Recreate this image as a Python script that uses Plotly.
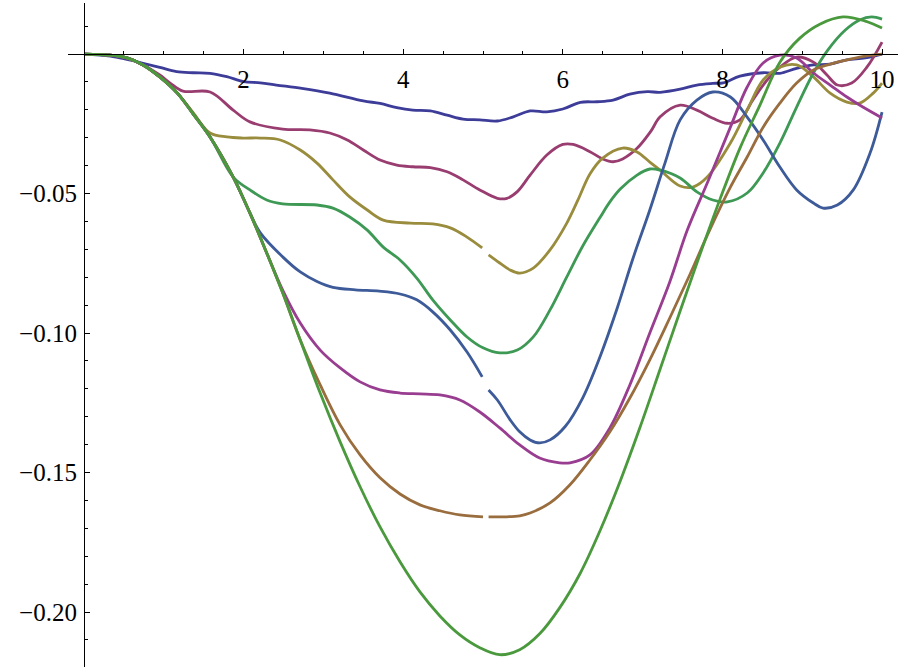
import plotly.graph_objects as go

# ---------------- data ----------------
x1 = [0, 0.33, 0.54, 0.74, 0.95, 1.16, 1.37, 1.58, 1.79, 2.0, 2.21, 2.41, 2.73, 3.08, 3.5, 3.71, 3.92, 4.12,
      4.34, 4.55, 4.75, 4.96, 5.18, 5.38, 5.59, 5.8, 6.0, 6.22, 6.43, 6.63, 6.84, 7.06, 7.22, 7.47, 7.68, 7.88,
      8.01, 8.22, 8.51, 8.72, 8.93, 9.14, 9.35, 9.56, 9.79, 10]
y1 = [0, -0.0007, -0.0019, -0.0033, -0.0048, -0.0063, -0.0067, -0.0069, -0.0081, -0.0099, -0.0103, -0.0111,
      -0.0123, -0.0140, -0.0168, -0.0177, -0.0192, -0.0201, -0.0204, -0.0219, -0.0233, -0.0236, -0.0240, -0.0225,
      -0.0204, -0.0207, -0.0197, -0.0173, -0.0171, -0.0165, -0.0144, -0.0135, -0.0137, -0.0126, -0.0111, -0.0105,
      -0.0103, -0.0079, -0.0067, -0.0069, -0.0051, -0.0039, -0.0036, -0.0021, -0.0014, 0]

x2 = [0, 0.33, 0.54, 0.74, 0.95, 1.08, 1.24, 1.58, 1.87, 2.08, 2.49, 2.83, 3.08, 3.30, 3.50, 3.71, 3.92, 4.12,
      4.34, 4.55, 4.75, 4.96, 5.18, 5.30, 5.43, 5.59, 5.80, 6.00, 6.13, 6.34, 6.50, 6.63, 6.75, 6.93, 7.10, 7.22,
      7.47, 7.68, 7.88, 8.06, 8.22, 8.38, 8.56, 8.72, 8.93, 9.14, 9.31, 9.44, 9.62, 9.81, 10]
y2 = [0, -0.0004, -0.0015, -0.0039, -0.0075, -0.0104, -0.0133, -0.0136, -0.0201, -0.0243, -0.0269, -0.0272,
      -0.0283, -0.0308, -0.0344, -0.0380, -0.0398, -0.0404, -0.0407, -0.0422, -0.0451, -0.0487, -0.0517, -0.0517,
      -0.0493, -0.0434, -0.0362, -0.0324, -0.0324, -0.0350, -0.0376, -0.0386, -0.0376, -0.0338, -0.0278, -0.0225,
      -0.0183, -0.0201, -0.0230, -0.0248, -0.0236, -0.0165, -0.0093, -0.0047, -0.0011, -0.0029, -0.0075, -0.0111,
      -0.0104, -0.0047, 0.0043]

x3 = [0, 0.33, 0.54, 0.74, 0.95, 1.17, 1.37, 1.58, 1.79, 1.99, 2.21, 2.46, 2.71, 2.92, 3.12, 3.33, 3.55, 3.75,
      4.09, 4.37, 4.59, 4.80, 4.99, None, 5.07, 5.21, 5.34, 5.46, 5.63, 5.84, 6.05, 6.19, 6.34, 6.50, 6.75, 6.93,
      7.09, 7.22, 7.47, 7.63, 7.81, 8.10, 8.31, 8.51, 8.72, 8.93, 9.14, 9.35, 9.56, 9.72, 9.89, 10]
y3 = [0, -0.0004, -0.0014, -0.0039, -0.0082, -0.0140, -0.0211, -0.0283, -0.0297, -0.0301, -0.0301, -0.0308,
      -0.0344, -0.0391, -0.0451, -0.0512, -0.0559, -0.0595, -0.0606, -0.0609, -0.0623, -0.0656, -0.0695, None,
      -0.0720, -0.0749, -0.0774, -0.0785, -0.0767, -0.0702, -0.0606, -0.0523, -0.0430, -0.0373, -0.0337, -0.0351,
      -0.0387, -0.0416, -0.0473, -0.0477, -0.0441, -0.0319, -0.0201, -0.0093, -0.0047, -0.0039, -0.0082, -0.0140,
      -0.0172, -0.0176, -0.0140, -0.0104]

x4 = [0, 0.33, 0.54, 0.74, 0.95, 1.17, 1.37, 1.58, 1.87, 2.08, 2.29, 2.49, 2.92, 3.12, 3.33, 3.55, 3.75, 3.96,
      4.17, 4.37, 4.59, 4.80, 5.00, 5.21, 5.43, 5.63, 5.84, 6.05, 6.25, 6.47, 6.59, 6.72, 6.93, 7.09, 7.22, 7.47,
      7.68, 7.88, 8.06, 8.31, 8.51, 8.72, 8.93, 9.14, 9.32, 9.54, 9.72, 9.87, 10]
y4 = [0, -0.0004, -0.0014, -0.0039, -0.0082, -0.0140, -0.0215, -0.0297, -0.0441, -0.0487, -0.0523, -0.0537,
      -0.0541, -0.0552, -0.0584, -0.0631, -0.0692, -0.0738, -0.0803, -0.0881, -0.0953, -0.1014, -0.1053, -0.1071,
      -0.1061, -0.1014, -0.0917, -0.0799, -0.0688, -0.0584, -0.0530, -0.0484, -0.0434, -0.0412, -0.0416, -0.0444,
      -0.0494, -0.0523, -0.0530, -0.0498, -0.0426, -0.0319, -0.0190, -0.0068, 0.0014, 0.0086, 0.0122, 0.0133,
      0.0125]

x5 = [0, 0.33, 0.54, 0.74, 0.95, 1.17, 1.37, 1.58, 1.87, 2.08, 2.21, 2.49, 2.71, 2.92, 3.12, 3.40, 3.70, 3.96,
      4.17, 4.37, 4.59, 4.80, 4.99, None, 5.07, 5.18, 5.34, 5.46, 5.59, 5.71, 5.84, 6.03, 6.25, 6.47, 6.68, 6.88,
      7.09, 7.28, 7.47, 7.68, 7.88, 8.10, 8.31, 8.51, 8.72, 8.93, 9.14, 9.26, 9.44, 9.64, 9.85, 10]
y5 = [0, -0.0004, -0.0014, -0.0039, -0.0082, -0.0140, -0.0215, -0.0297, -0.0441, -0.0570, -0.0641, -0.0727,
      -0.0781, -0.0815, -0.0836, -0.0845, -0.0850, -0.0860, -0.0881, -0.0924, -0.0989, -0.1068, -0.1157, None,
      -0.1204, -0.1240, -0.1311, -0.1354, -0.1383, -0.1394, -0.1383, -0.1335, -0.1232, -0.1082, -0.0912, -0.0732,
      -0.0559, -0.0391, -0.0236, -0.0165, -0.0136, -0.0154, -0.0226, -0.0308, -0.0405, -0.0487, -0.0534, -0.0552,
      -0.0541, -0.0487, -0.0355, -0.0208]

x6 = [0, 0.33, 0.54, 0.74, 0.95, 1.17, 1.37, 1.58, 1.87, 2.08, 2.29, 2.49, 2.71, 2.96, 3.21, 3.46, 3.71, 3.96,
      4.21, 4.46, 4.71, 4.96, 5.21, 5.46, 5.71, 5.96, 6.09, 6.34, 6.59, 6.84, 7.09, 7.34, 7.56, 7.81, 8.10, 8.31,
      8.51, 8.72, 8.93, 9.14, 9.35, 9.56, 9.76, 10]
y6 = [0, -0.0004, -0.0014, -0.0039, -0.0082, -0.0140, -0.0215, -0.0297, -0.0441, -0.0570, -0.0713, -0.0846,
      -0.0964, -0.1061, -0.1125, -0.1175, -0.1204, -0.1215, -0.1218, -0.1222, -0.1240, -0.1283, -0.1340, -0.1401,
      -0.1448, -0.1465, -0.1465, -0.1437, -0.1340, -0.1186, -0.1000, -0.0817, -0.0631, -0.0462, -0.0262, -0.0118,
      -0.0032, -0.0004, -0.0014, -0.0068, -0.0111, -0.0154, -0.0190, -0.0229]

x7 = [0, 0.33, 0.54, 0.74, 0.95, 1.17, 1.37, 1.58, 1.87, 2.08, 2.29, 2.49, 2.71, 2.96, 3.21, 3.46, 3.71, 3.96,
      4.21, 4.46, 4.71, 5.00, None, 5.07, 5.21, 5.46, 5.59, 5.84, 6.09, 6.34, 6.59, 6.84, 7.09, 7.34, 7.59, 7.84,
      8.10, 8.31, 8.51, 8.72, 8.93, 9.14, 9.35, 9.56, 9.79, 10]
y7 = [0, -0.0004, -0.0014, -0.0039, -0.0082, -0.0140, -0.0215, -0.0297, -0.0441, -0.0570, -0.0713, -0.0856,
      -0.1025, -0.1186, -0.1329, -0.1437, -0.1519, -0.1577, -0.1616, -0.1637, -0.1652, -0.1659, None, -0.1659,
      -0.1659, -0.1655, -0.1645, -0.1609, -0.1544, -0.1455, -0.1354, -0.1233, -0.1096, -0.0946, -0.0792, -0.0631,
      -0.0477, -0.0369, -0.0262, -0.0176, -0.0104, -0.0057, -0.0036, -0.0021, -0.0007, 0.0]

x8 = [0, 0.33, 0.54, 0.74, 0.95, 1.17, 1.37, 1.58, 1.87, 2.08, 2.29, 2.49, 2.71, 2.96, 3.21, 3.46, 3.71, 3.96,
      4.21, 4.46, 4.71, 4.96, 5.21, 5.46, 5.71, 5.96, 6.22, 6.47, 6.72, 6.97, 7.22, 7.47, 7.72, 7.97, 8.22, 8.47,
      8.72, 8.97, 9.22, 9.51, 9.79, 10]
y8 = [0, -0.0004, -0.0014, -0.0039, -0.0082, -0.0140, -0.0215, -0.0297, -0.0441, -0.0570, -0.0713, -0.0856,
      -0.1025, -0.1215, -0.1390, -0.1551, -0.1695, -0.1820, -0.1928, -0.2014, -0.2082, -0.2128, -0.2153, -0.2135,
      -0.2078, -0.1985, -0.1860, -0.1706, -0.1530, -0.1336, -0.1129, -0.0921, -0.0717, -0.0520, -0.0337, -0.0183,
      -0.0029, 0.0057, 0.0107, 0.0133, 0.0118, 0.0093]

x_tick_vals = [2, 4, 6, 8, 10]
x_tick_text = ["2", "4", "6", "8", "10"]
y_tick_vals = [-0.05, -0.10, -0.15, -0.20]
y_tick_text = ["\u22120.05", "\u22120.10", "\u22120.15", "\u22120.20"]

series = [(x1, y1), (x2, y2), (x3, y3), (x4, y4), (x5, y5), (x6, y6), (x7, y7), (x8, y8)]
colors = ["rgb(61,61,153)", "rgb(153,61,113)", "rgb(153,140,61)", "rgb(61,153,84)",
          "rgb(61,90,153)", "rgb(153,61,144)", "rgb(153,109,61)", "rgb(74,153,61)"]

# ---------------- figure ----------------
X_RANGE = [-0.2, 10.2]
Y_RANGE = [-0.2197, 0.0183]

fig = go.Figure()
for (xs, ys), c in zip(series, colors):
    fig.add_trace(go.Scatter(x=xs, y=ys, mode="lines", connectgaps=False,
                             line=dict(color=c, width=2.8, shape="spline", smoothing=1.0),
                             showlegend=False, hoverinfo="skip"))

xpos = (0 - Y_RANGE[0]) / (Y_RANGE[1] - Y_RANGE[0])
ypos = (0 - X_RANGE[0]) / (X_RANGE[1] - X_RANGE[0])

x_minor = [v * 0.5 for v in range(1, 21) if (v * 0.5) not in x_tick_vals]
y_minor = [round(-0.01 * k, 2) for k in range(-1, 22) if k % 5 != 0]

font = dict(family="Liberation Serif, Times New Roman, serif", size=25, color="black")

fig.update_layout(
    width=903, height=670,
    margin=dict(l=68, r=5, t=3, b=3),
    paper_bgcolor="white", plot_bgcolor="white",
    font=font,
    xaxis=dict(range=X_RANGE, anchor="free", position=xpos, showgrid=False, zeroline=False,
               showline=True, linecolor="black", linewidth=1,
               tickmode="array", tickvals=x_tick_vals, ticktext=x_tick_text,
               ticks="inside", ticklen=5, tickcolor="black", tickwidth=1,
               ticklabelstandoff=3,
               minor=dict(tickmode="array", tickvals=x_minor, ticks="inside", ticklen=3,
                          tickcolor="black", tickwidth=1, showgrid=False),
               tickfont=font, automargin=False),
    yaxis=dict(range=Y_RANGE, anchor="free", position=ypos, showgrid=False, zeroline=False,
               showline=True, linecolor="black", linewidth=1,
               tickmode="array", tickvals=y_tick_vals, ticktext=y_tick_text,
               ticks="inside", ticklen=5, tickcolor="black", tickwidth=1,
               ticklabelstandoff=2,
               minor=dict(tickmode="array", tickvals=y_minor, ticks="inside", ticklen=3,
                          tickcolor="black", tickwidth=1, showgrid=False),
               tickfont=font, automargin=False),
)

fig.write_html("out.html", config={"displayModeBar": False},
               post_script="document.body.style.margin='0';document.body.style.overflow='hidden';")
